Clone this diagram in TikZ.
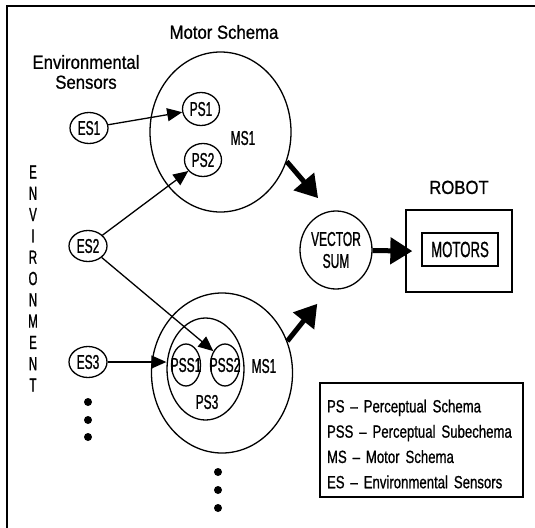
\documentclass[tikz,border=0pt]{standalone}
\usepackage{fontspec}
\setmainfont{Liberation Sans}
\newfontfamily\headfont[FakeStretch=0.88, FakeBold=0.8]{Liberation Sans}
\newfontfamily\narrowfont[FakeStretch=0.6, FakeBold=1]{Liberation Sans}
\newfontfamily\keyfont[FakeStretch=0.745, FakeBold=0.8]{Liberation Sans}
\usetikzlibrary{shapes.geometric, arrows.meta, positioning}

\begin{document}
\begin{tikzpicture}[
    x=1pt, y=-1pt,
    every node/.style={font=\headfont\fontsize{19}{20}\selectfont, inner sep=0pt},
    sensor/.style={draw, ellipse, line width=1.3pt, minimum width=38pt, minimum height=31pt, font=\narrowfont\fontsize{20}{22}\selectfont},
    percept/.style={draw, ellipse, line width=1.3pt, minimum width=37pt, minimum height=33pt, font=\narrowfont\fontsize{20}{22}\selectfont},
    subschema/.style={draw, ellipse, line width=1.3pt, minimum width=29pt, minimum height=42pt, inner xsep=-6pt, font=\narrowfont\fontsize{20}{22}\selectfont},
    groupschema/.style={draw, ellipse, line width=1.3pt, minimum width=77pt, minimum height=102pt},
    motorschema/.style={draw, ellipse, line width=1.3pt, minimum width=141pt, minimum height=160pt},
    tag/.style={font=\narrowfont\fontsize{20}{22}\selectfont},
    vsumnode/.style={draw, ellipse, line width=1.3pt, minimum width=72pt, minimum height=78pt, align=center, font=\narrowfont\fontsize{20}{22}\selectfont},
    robotbox/.style={draw, rectangle, line width=1.3pt, minimum width=106pt, minimum height=82pt},
    motorbox/.style={draw, rectangle, line width=1.3pt, minimum width=76pt, minimum height=33pt, font=\narrowfont\fontsize{22}{24}\selectfont},
    keybox/.style={draw, rectangle, line width=1.3pt, minimum width=203pt, minimum height=114pt},
    keytext/.style={text width=205pt, align=left, font=\keyfont\fontsize{17.7}{25.3}\selectfont},
    feed/.style={line width=1.3pt, -{Triangle[length=15pt,width=13pt]}},
    bigarrow/.style={line width=5pt, -{Triangle[length=22pt,width=26pt]}}
]
    \useasboundingbox (0,0) rectangle (535,527);
    \clip (0,0) rectangle (535,527);
    % frame
    \draw[line width=2pt] (7,6) rectangle (560,560);

    % Headings
    \node (mshead) at (224,32) {Motor Schema};
    \node[align=center] (eshead) at (86,72) {Environmental\\Sensors};
    \node[align=center, font=\narrowfont\fontsize{19}{21.3}\selectfont] (env) at (33,278.5) {E\\N\\V\\I\\R\\O\\N\\M\\E\\N\\T};

    % Environmental sensors
    \node[sensor] (es1) at (89,128) {ES1};
    \node[sensor] (es2) at (88,246) {ES2};
    \node[sensor] (es3) at (88,362) {ES3};
    \foreach \y in {402,420,437} \fill (88,\y) circle (4pt);

    % Upper motor schema
    \node[motorschema] (ms1) at (220.5,132) {};
    \node[percept] (ps1) at (201,109) {PS1};
    \node[percept] (ps2) at (203,160) {PS2};
    \node[tag] (ms1lbl) at (243,138) {MS1};

    % Lower motor schema
    \node[motorschema] (ms2) at (222,373) {};
    \node[groupschema] (ps3) at (205.5,369) {};
    \node[subschema] (pss1) at (186,365) {PSS1};
    \node[subschema] (pss2) at (225,365) {PSS2};
    \node[tag] (ps3lbl) at (207,402) {PS3};
    \node[tag] (ms2lbl) at (264,366) {MS1};
    \foreach \y in {472,490,508} \fill (218,\y) circle (4pt);

    % Vector sum and robot
    \node[vsumnode] (vsum) at (336,250) {VECTOR\\SUM};
    \node[robotbox] (robot) at (459,251) {};
    \node[motorbox] (motors) at (460,249.5) {MOTORS};
    \node[above=15pt of robot] (robotlbl) {ROBOT};

    % Legend
    \node[keybox] (key) at (421.5,440) {};
    \node[keytext] (keytext) at ([xshift=8pt,yshift=-4pt]key.center) {PS – Perceptual Schema\\PSS – Perceptual Subechema\\MS – Motor Schema\\ES – Environmental Sensors};

    % Connections
    \draw[feed] (es1) -- (ps1);
    \draw[feed] (es2) -- (ps2);
    \draw[feed] (es2) -- (pss2.130);
    \draw[feed] (es3) -- (es3 -| ps3.west);
    \draw[bigarrow, shorten >=17pt] (ms1.-24) -- (vsum.100);
    \draw[bigarrow, shorten >=19pt] (ms2.26) -- (vsum.-100);
    \draw[bigarrow, shorten >=-7pt] (vsum) -- (robot.west);
\end{tikzpicture}
\end{document}
